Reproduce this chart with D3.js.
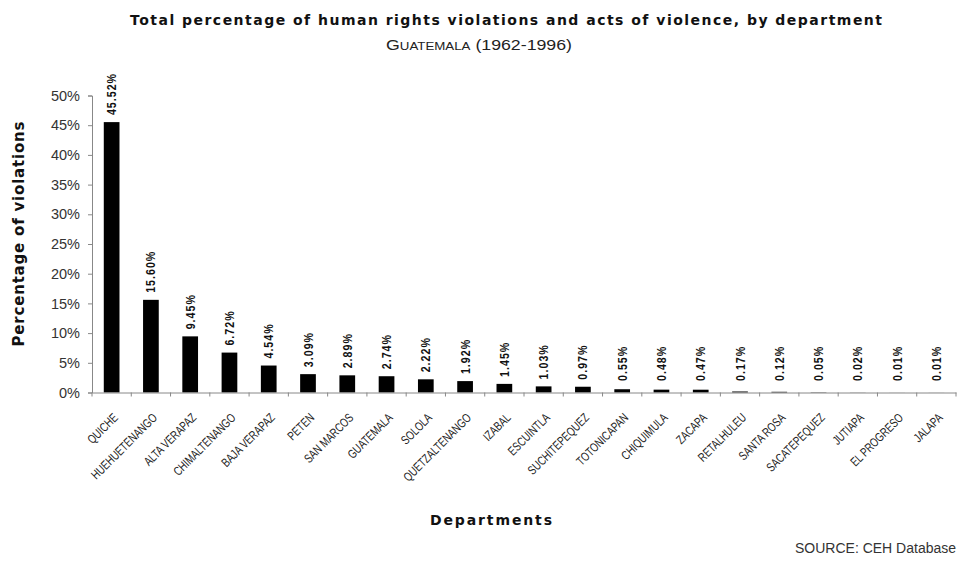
<!DOCTYPE html>
<html>
<head>
<meta charset="utf-8">
<script src="https://cdn.jsdelivr.net/npm/d3@7"></script>
<style>
  html, body { margin: 0; padding: 0; background: #fff; }
  svg { display: block; }
</style>
</head>
<body>
<svg id="chart" width="957" height="563"></svg>
<script>
const departments = ["QUICHE","HUEHUETENANGO","ALTA VERAPAZ","CHIMALTENANGO","BAJA VERAPAZ","PETEN","SAN MARCOS","GUATEMALA","SOLOLA","QUETZALTENANGO","IZABAL","ESCUINTLA","SUCHITEPEQUEZ","TOTONICAPAN","CHIQUIMULA","ZACAPA","RETALHULEU","SANTA ROSA","SACATEPEQUEZ","JUTIAPA","EL PROGRESO","JALAPA"];
const percentages = [45.52,15.60,9.45,6.72,4.54,3.09,2.89,2.74,2.22,1.92,1.45,1.03,0.97,0.55,0.48,0.47,0.17,0.12,0.05,0.02,0.01,0.01];
const yTicks = [0,5,10,15,20,25,30,35,40,45,50];

const svg = d3.select("#chart");
const x0 = 92, x1 = 956, yBase = 392.5, yTop = 95.5;

const x = d3.scaleBand().domain(departments).range([x0, x1]).paddingInner(0.6).paddingOuter(0.3);
const y = d3.scaleLinear().domain([0, 50]).range([yBase, yTop]);

// Title
svg.append("text")
  .attr("x", 130).attr("y", 25)
  .attr("textLength", 752).attr("lengthAdjust", "spacing")
  .style("font-family", "'DejaVu Sans', Verdana, sans-serif")
  .style("font-weight", "bold").style("font-size", "14px").attr("fill", "#111")
  .text("Total percentage of human rights violations and acts of violence, by department");

const sub = svg.append("text")
  .attr("x", 386).attr("y", 50)
  .attr("textLength", 186).attr("lengthAdjust", "spacingAndGlyphs")
  .style("font-family", "'Liberation Sans', Arial, sans-serif")
  .attr("fill", "#222");
sub.append("tspan").style("font-size", "14px").text("G");
sub.append("tspan").style("font-size", "10.5px").text("UATEMALA");
sub.append("tspan").style("font-size", "14px").text(" (1962-1996)");

// Y axis
const yAxis = svg.append("g")
  .attr("transform", `translate(${x0},0)`)
  .call(d3.axisLeft(y).tickValues(yTicks).tickSize(4).tickPadding(8).tickFormat(d => d + "%"));
yAxis.select(".domain").attr("stroke", "#888");
yAxis.selectAll(".tick line").attr("stroke", "#888");
yAxis.selectAll(".tick text")
  .style("font-family", "'Liberation Sans', Arial, sans-serif")
  .style("font-size", "14.5px").attr("fill", "#333");

// Bars
svg.append("g").selectAll("rect")
  .data(percentages)
  .join("rect")
  .attr("x", (d, i) => x(departments[i]))
  .attr("y", d => y(d))
  .attr("width", x.bandwidth())
  .attr("height", d => yBase - y(d))
  .attr("fill", "#000");

// X axis
const xAxis = svg.append("g")
  .attr("transform", `translate(0,${yBase})`)
  .call(d3.axisBottom(x).tickSize(0).tickPadding(0));
xAxis.select(".domain").attr("stroke", "#888");
xAxis.selectAll(".tick text")
  .attr("x", 0).attr("y", 0).attr("dy", 0)
  .attr("transform", "translate(7,26) rotate(-45) scale(0.76,1)")
  .attr("text-anchor", "end")
  .style("font-family", "'Liberation Sans', Arial, sans-serif")
  .style("font-size", "12.5px").attr("fill", "#222");

// Category boundary ticks
const boundaries = [x0].concat(departments.map(d => x(d) + x.bandwidth() + (x.step() - x.bandwidth()) / 2));
svg.append("g").selectAll("line")
  .data(boundaries)
  .join("line")
  .attr("x1", d => d).attr("x2", d => d)
  .attr("y1", yBase).attr("y2", yBase + 4)
  .attr("stroke", "#888");

// Value labels
svg.append("g").selectAll("text")
  .data(percentages)
  .join("text")
  .attr("transform", (d, i) => {
    const cx = x(departments[i]) + x.bandwidth() / 2 + 4.5;
    const cy = Math.min(y(d) - 7, 381);
    return `translate(${cx},${cy}) rotate(-90) scale(0.85,1)`;
  })
  .attr("text-anchor", "start")
  .style("font-family", "'Liberation Sans', Arial, sans-serif")
  .style("font-weight", "bold").style("font-size", "12.5px")
  .style("letter-spacing", "1.2px").attr("fill", "#111")
  .text(d => d.toFixed(2) + "%");

// Axis titles
svg.append("text")
  .attr("transform", "translate(24,234) rotate(-90)")
  .attr("text-anchor", "middle")
  .attr("textLength", 225).attr("lengthAdjust", "spacing")
  .style("font-family", "'DejaVu Sans', Verdana, sans-serif")
  .style("font-weight", "bold").style("font-size", "15px").attr("fill", "#111")
  .text("Percentage of violations");

svg.append("text")
  .attr("x", 430).attr("y", 525)
  .attr("textLength", 122).attr("lengthAdjust", "spacing")
  .style("font-family", "'DejaVu Sans', Verdana, sans-serif")
  .style("font-weight", "bold").style("font-size", "14px").attr("fill", "#111")
  .text("Departments");

svg.append("text")
  .attr("x", 795).attr("y", 553)
  .style("font-family", "'Liberation Sans', Arial, sans-serif")
  .style("font-size", "14px").attr("fill", "#333")
  .text("SOURCE: CEH Database");
</script>
</body>
</html>
